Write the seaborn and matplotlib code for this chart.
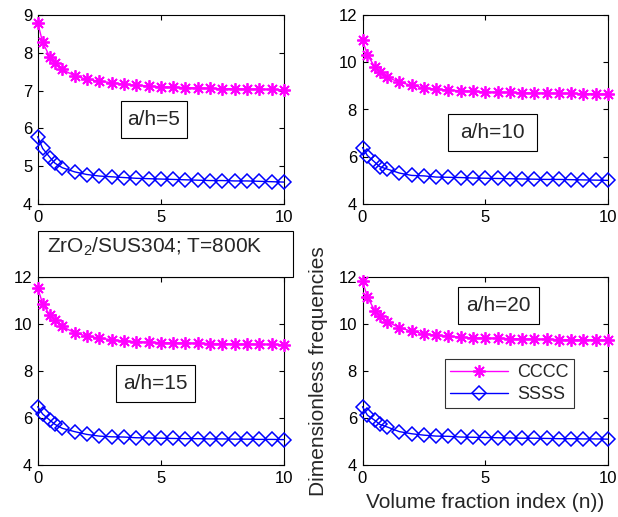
import matplotlib
matplotlib.use("Agg")
import matplotlib.pyplot as plt
import matplotlib.patches as mpatches
import seaborn as sns
import numpy as np
import pandas as pd

# ---- data ----
n_index = [0, 0.2, 0.5, 0.7, 1, 1.5, 2, 2.5, 3, 3.5, 4, 4.5, 5,
           5.5, 6, 6.5, 7, 7.5, 8, 8.5, 9, 9.5, 10]

cccc_ah5 = [8.80, 8.28, 7.88, 7.74, 7.56, 7.39, 7.30, 7.25, 7.21, 7.17, 7.14, 7.12, 7.10,
            7.09, 7.08, 7.07, 7.06, 7.05, 7.05, 7.04, 7.04, 7.03, 7.02]
ssss_ah5 = [5.78, 5.47, 5.23, 5.08, 4.96, 4.85, 4.78, 4.74, 4.72, 4.70, 4.68, 4.67, 4.66,
            4.65, 4.64, 4.63, 4.62, 4.62, 4.61, 4.61, 4.60, 4.59, 4.58]
cccc_ah10 = [10.94, 10.32, 9.80, 9.57, 9.36, 9.16, 9.02, 8.92, 8.86, 8.82, 8.79, 8.77, 8.74,
             8.73, 8.72, 8.71, 8.70, 8.69, 8.68, 8.68, 8.67, 8.66, 8.65]
ssss_ah10 = [6.39, 6.05, 5.77, 5.58, 5.48, 5.31, 5.21, 5.19, 5.14, 5.13, 5.12, 5.10, 5.09,
             5.08, 5.07, 5.06, 5.05, 5.04, 5.04, 5.03, 5.02, 5.01, 5.00]
cccc_ah15 = [11.55, 10.86, 10.37, 10.16, 9.90, 9.62, 9.49, 9.40, 9.33, 9.28, 9.25, 9.22, 9.21,
             9.20, 9.19, 9.18, 9.17, 9.16, 9.15, 9.14, 9.14, 9.13, 9.12]
ssss_ah15 = [6.48, 6.17, 5.90, 5.73, 5.56, 5.42, 5.30, 5.23, 5.20, 5.19, 5.16, 5.15, 5.14,
             5.13, 5.12, 5.12, 5.11, 5.11, 5.10, 5.10, 5.09, 5.09, 5.08]
cccc_ah20 = [11.82, 11.15, 10.57, 10.35, 10.09, 9.85, 9.69, 9.59, 9.52, 9.48, 9.44, 9.41, 9.40,
             9.39, 9.38, 9.37, 9.36, 9.35, 9.34, 9.33, 9.33, 9.32, 9.31]
ssss_ah20 = [6.48, 6.12, 5.90, 5.73, 5.62, 5.42, 5.33, 5.27, 5.23, 5.22, 5.19, 5.18, 5.17,
             5.16, 5.15, 5.14, 5.14, 5.13, 5.12, 5.12, 5.11, 5.11, 5.10]

panel_labels = ["a/h=5", "a/h=10", "a/h=15", "a/h=20"]
series_names = ["CCCC", "SSSS"]
x_ticks = [0, 5, 10]
y_ticks_first = [4, 5, 6, 7, 8, 9]
y_ticks_other = [4, 6, 8, 10, 12]
title_text = "ZrO$_2$/SUS304; T=800K"
x_label = "Volume fraction index (n))"
y_label = "Dimensionless frequencies"

# ---- style ----
sns.set_theme(style="white")
plt.rcParams["font.family"] = ["Liberation Sans", "DejaVu Sans"]
plt.rcParams["mathtext.fontset"] = "custom"
plt.rcParams["mathtext.rm"] = "Liberation Sans"
plt.rcParams["mathtext.it"] = "Liberation Sans"
plt.rcParams["mathtext.bf"] = "Liberation Sans"

W, H = 618, 517
fig = plt.figure(figsize=(W / 100, H / 100), dpi=100)
fig.patch.set_facecolor("white")


def fx(px):
    return px / W


def fy(py):
    return 1 - py / H


# axes boxes in pixels: (left, top, right, bottom)
boxes = [(37.7, 15, 284, 204), (362.5, 15, 608, 204),
         (37.7, 277, 284, 465), (362.5, 277, 608, 465)]
data_sets = [(cccc_ah5, ssss_ah5), (cccc_ah10, ssss_ah10),
             (cccc_ah15, ssss_ah15), (cccc_ah20, ssss_ah20)]
ylims = [(4, 9), (4, 12), (4, 12), (4, 12)]
label_boxes = [(120.7, 101, 187.3, 137.7), (448, 114, 537, 151),
               (115.7, 365, 195, 401.7), (457.7, 287, 539, 324)]

magenta = "#ff00ff"
blue = "#0000ff"
asterisk = (8, 2, 0)

axes = []
for i, (l, t, r, b) in enumerate(boxes):
    ax = fig.add_axes([fx(l), fy(b), fx(r) - fx(l), fy(t) - fy(b)])
    axes.append(ax)
    c_vals, s_vals = data_sets[i]
    sns.lineplot(x=n_index, y=c_vals, ax=ax, color=magenta, lw=1.0,
                 marker=asterisk, markersize=9, markeredgecolor=magenta,
                 markeredgewidth=1.3, label=series_names[0], legend=False,
                 clip_on=False, zorder=3)
    sns.lineplot(x=n_index, y=s_vals, ax=ax, color=blue, lw=1.0,
                 marker="D", markersize=6.8, markerfacecolor="none",
                 markeredgecolor=blue, markeredgewidth=1.1,
                 label=series_names[1], legend=False, clip_on=False, zorder=3)
    ax.set_xlim(0, 10)
    ax.set_ylim(*ylims[i])
    ax.set_xticks(x_ticks)
    ax.set_yticks(y_ticks_first if i == 0 else y_ticks_other)
    ax.set_xlabel("")
    ax.set_ylabel("")
    ax.tick_params(direction="in", length=3.5, width=0.8, top=True, right=True,
                   labelsize=12, colors="black", pad=4,
                   bottom=True, left=True)
    for sp in ax.spines.values():
        sp.set_visible(True)
        sp.set_color("black")
        sp.set_linewidth(0.8)
        sp.set_zorder(2)
    ax.set_facecolor("white")
    ax.grid(False)

    # text boxes
    bl, bt, br, bb = label_boxes[i]
    rect = mpatches.Rectangle((fx(bl), fy(bb)), fx(br) - fx(bl), fy(bt) - fy(bb),
                              transform=fig.transFigure, facecolor="white",
                              edgecolor="black", lw=0.8, zorder=5)
    fig.add_artist(rect)
    fig.text(fx((bl + br) / 2), fy((bt + bb) / 2), panel_labels[i],
             ha="center", va="center", fontsize=15, zorder=6)

# title box
rect = mpatches.Rectangle((fx(37.7), fy(277)), fx(293) - fx(37.7), fy(231) - fy(277),
                          transform=fig.transFigure, facecolor="white",
                          edgecolor="black", lw=0.8, zorder=5)
fig.add_artist(rect)
fig.text(fx(47), fy(253), title_text, ha="left", va="baseline", fontsize=15,
         zorder=6)

# labels on bottom-right axes
ax = axes[3]
fig.text(fx(485), fy(508), x_label, ha="center", va="baseline", fontsize=15)
fig.text(fx(318), fy(371), y_label, ha="center", va="center", fontsize=15,
         rotation=90)

leg = ax.legend(loc="upper left", bbox_to_anchor=(fx(445), fy(359)),
                bbox_transform=fig.transFigure, borderaxespad=0,
                frameon=True, fancybox=False, edgecolor="black",
                fontsize=13, handlelength=3.2, handletextpad=0.5,
                borderpad=0.3, labelspacing=0.25)
leg.get_frame().set_linewidth(0.8)
leg.set_zorder(7)

fig.savefig("out.png", dpi=100, facecolor="white")
